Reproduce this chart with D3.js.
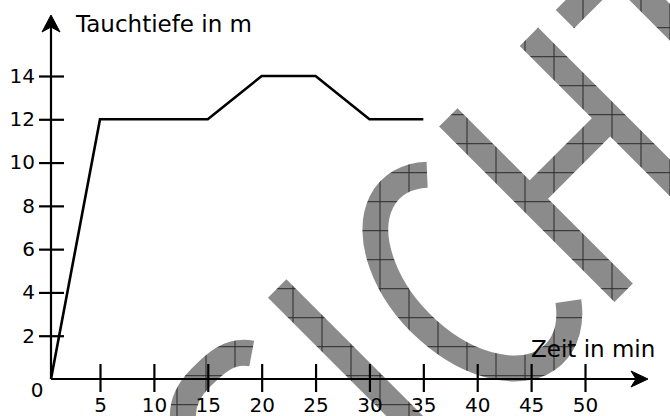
<!DOCTYPE html>
<html>
<head>
<meta charset="utf-8">
<script src="https://cdn.jsdelivr.net/npm/d3@7"></script>
<style>
  body { margin: 0; background: #fff; }
  svg { display: block; }
  text { font-family: "DejaVu Sans", sans-serif; fill: #000; }
</style>
</head>
<body>
<svg id="root" width="670" height="416"></svg>
<script>
// Tauchgang: Zeit (min) gegen Tiefe (m)
const times = [0, 5, 15, 20, 25, 30, 35];
const depths = [0, 12, 12, 14, 14, 12, 12];
const xTicks = [5, 10, 15, 20, 25, 30, 35, 40, 45, 50];
const yTicks = [2, 4, 6, 8, 10, 12, 14];
const xTitle = "Zeit in min";
const yTitle = "Tauchtiefe in m";
const watermark = "SICHT";

const main = () => {
    const svg = d3.select("#root");
    const width = 670, height = 416;

    svg.append("rect").attr("width", width).attr("height", height).attr("fill", "#fff");

    // watermark letters, drawn as strokes in a rotated frame (u along baseline, v down)
    const letterPaths = {
        S: "M-72,428 C-85,409 -105,409 -125,409 C-160,409 -178,430 -178,460 C-178,530 -72,510 -72,590 C-72,625 -100,642 -130,642 C-150,642 -170,635 -185,620",
        I: "M-8,400 V648",
        C: (() => {
            const cu = 142, cv = 526, rx = 73, ry = 116;
            const a0 = -60 * Math.PI / 180, a1 = 50 * Math.PI / 180;
            return `M${cu + rx * Math.cos(a0)},${cv + ry * Math.sin(a0)} A${rx},${ry} 0 1 0 ${cu + rx * Math.cos(a1)},${cv + ry * Math.sin(a1)}`;
        })(),
        H: "M234,400 V648 M348,400 V648 M234,515 H348",
        T: "M386,413 H530 M458,413 V648",
    };

    const defs = svg.append("defs");
    const pat = defs.append("pattern")
        .attr("id", "hatch")
        .attr("patternUnits", "userSpaceOnUse")
        .attr("width", 29).attr("height", 29)
        .attr("x", 2.5).attr("y", 27.2);
    pat.append("rect").attr("width", 29).attr("height", 29).attr("fill", "#8b8b8b");
    pat.append("path").attr("d", "M0,0.5 H29 M0.5,0 V29")
        .attr("stroke", "#2a2a2a").attr("stroke-width", 1);

    const mask = defs.append("mask").attr("id", "wm");
    mask.append("rect").attr("width", width).attr("height", height).attr("fill", "#000");
    mask.append("g")
        .attr("transform", "rotate(-45)")
        .selectAll("path")
        .data(watermark.split(""))
        .join("path")
        .attr("d", (c) => letterPaths[c])
        .attr("fill", "none")
        .attr("stroke", "#fff")
        .attr("stroke-width", 26);

    svg.append("rect")
        .attr("width", width).attr("height", height)
        .attr("fill", "url(#hatch)")
        .attr("mask", "url(#wm)");

    const xScale = d3.scaleLinear().domain([0, 5, 50]).range([51, 100, 585]);
    const yScale = d3.scaleLinear().domain([0, 14]).range([379, 76]);

    const x0 = xScale(0), y0 = yScale(0);

    // axis lines with arrows
    svg.append("line")
        .attr("x1", x0).attr("y1", y0).attr("x2", 640).attr("y2", y0)
        .attr("stroke", "#000").attr("stroke-width", 2.2);
    svg.append("path")
        .attr("d", `M648,${y0} L631,${y0 - 8} L636,${y0} L631,${y0 + 8} Z`)
        .attr("fill", "#000").attr("stroke", "#000").attr("stroke-width", 1).attr("stroke-linejoin", "round");
    svg.append("line")
        .attr("x1", x0).attr("y1", y0).attr("x2", x0).attr("y2", 24)
        .attr("stroke", "#000").attr("stroke-width", 2.2);
    svg.append("path")
        .attr("d", `M${x0},15 L${x0 - 9},32 L${x0},27 L${x0 + 9},32 Z`)
        .attr("fill", "#000").attr("stroke", "#000").attr("stroke-width", 1).attr("stroke-linejoin", "round");

    const xAxis = d3.axisBottom(xScale).tickValues(xTicks).tickSize(13).tickPadding(6);
    svg.append("g")
        .attr("transform", `translate(0, ${y0})`)
        .call(xAxis)
        .call((g) => g.select(".domain").remove())
        .call((g) => g.selectAll(".tick line").attr("y1", -15).attr("stroke-width", 2.2))
        .call((g) => g.selectAll("text").attr("font-size", 20).attr("font-family", "DejaVu Sans").attr("fill", "#000"));

    const yAxis = d3.axisLeft(yScale).tickValues(yTicks).tickSize(12).tickPadding(4);
    svg.append("g")
        .attr("transform", `translate(${x0}, 0)`)
        .call(yAxis)
        .call((g) => g.select(".domain").remove())
        .call((g) => g.selectAll(".tick line").attr("x1", 13).attr("stroke-width", 2.2))
        .call((g) => g.selectAll("text").attr("font-size", 20).attr("font-family", "DejaVu Sans").attr("fill", "#000"));

    svg.append("text")
        .attr("x", x0 - 14).attr("y", y0 + 18)
        .attr("text-anchor", "middle")
        .attr("font-size", 20)
        .text("0");

    svg.append("text")
        .attr("x", 76).attr("y", 32)
        .attr("font-size", 23)
        .text(yTitle);
    svg.append("text")
        .attr("x", 531).attr("y", 357)
        .attr("font-size", 23)
        .text(xTitle);

    const line = d3.line()
        .x((d, i) => xScale(times[i]))
        .y((d) => yScale(d));
    svg.append("path")
        .datum(depths)
        .attr("d", line)
        .attr("fill", "none")
        .attr("stroke", "#000")
        .attr("stroke-width", 2.6)
        .attr("stroke-linejoin", "miter");
};

main();
</script>
</body>
</html>
